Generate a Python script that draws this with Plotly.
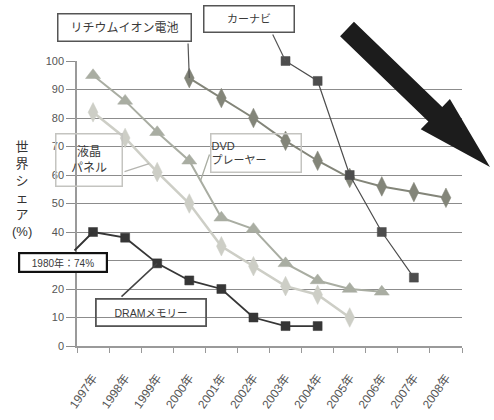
import plotly.graph_objects as go

# Categories (x axis)
years = ["1997年", "1998年", "1999年", "2000年", "2001年", "2002年",
         "2003年", "2004年", "2005年", "2006年", "2007年", "2008年"]

# World share (%) of Japanese makers by product
dram_x = years[0:8]
dram_share = [40, 38, 29, 23, 20, 10, 7, 7]

lcd_x = years[0:9]
lcd_share = [82, 73, 61, 50, 35, 28, 21, 18, 10]

dvd_x = years[0:10]
dvd_share = [95, 86, 75, 65, 45, 41, 29, 23, 20, 19]

liion_x = years[3:12]
liion_share = [94, 87, 80, 72, 65, 59, 56, 54, 52]

navi_x = years[6:11]
navi_share = [100, 93, 60, 40, 24]

y_ticks = [0, 10, 20, 30, 40, 50, 60, 70, 80, 90, 100]
# the "30" label sits under the 1980 note box
y_tick_text = ["0", "10", "20", "", "40", "50", "60", "70", "80", "90", "100"]

# Canvas and plot-area geometry (pixels)
W, H = 494, 420
ML, MR, MT, MB = 77, 32, 61, 74
PW, PH = W - ML - MR, H - MT - MB
FONT = "Liberation Sans, Noto Sans CJK JP, sans-serif"


def to_paper(px, py):
    return (px - ML) / PW, (H - MB - py) / PH


def data_to_px(i, v):
    return ML + (i + 0.5) * PW / len(years), H - MB - v * PH / 100.0


fig = go.Figure()

series = [
    (lcd_x, lcd_share, "#cdcec6", 2.5, "diamond-tall", 14, "液晶パネル"),
    (dvd_x, dvd_share, "#a9ada2", 2.0, "triangle-up", 13, "DVDプレーヤー"),
    (liion_x, liion_share, "#838579", 2.0, "diamond-tall", 14, "リチウムイオン電池"),
    (navi_x, navi_share, "#4d4d4d", 1.2, "square", 9, "カーナビ"),
    (dram_x, dram_share, "#363636", 1.8, "square", 9, "DRAMメモリー"),
]
for xs, ys, col, lw, sym, ms, name in series:
    fig.add_trace(go.Scatter(
        x=xs, y=ys, name=name, mode="lines+markers",
        line=dict(color=col, width=lw),
        marker=dict(symbol=sym, size=ms, color=col,
                    line=dict(color=col, width=0.5)),
        cliponaxis=False, showlegend=False,
    ))

annotations = []


def interp(xs, vals, pos):
    i0 = int(pos)
    f = pos - i0
    start = years.index(xs[0])
    a = vals[i0 - start]
    b = vals[min(i0 - start + 1, len(vals) - 1)]
    return a + f * (b - a)


# Connector lines from each label box to its series
connectors = [
    (3.0, interp(liion_x, liion_share, 3.0), (188, 42), "#555555", 1.2),
    (6.0, interp(navi_x, navi_share, 6.0), (272, 33), "#555555", 1.2),
    (1.75, interp(lcd_x, lcd_share, 1.75), (123, 172), "#b5b5b0", 1.3),
    (3.35, interp(dvd_x, dvd_share, 3.35), (210, 153), "#a9ada2", 1.3),
    (0.0, interp(dram_x, dram_share, 0.0), (73, 252), "#333333", 1.8),
    (2.0, interp(dram_x, dram_share, 2.0), (120, 298), "#444444", 1.5),
]
for xi, yv, (tx, ty), col, lw in connectors:
    hx, hy = data_to_px(xi, yv)
    annotations.append(dict(
        x=xi, y=yv, xref="x", yref="y", text="", showarrow=True,
        arrowhead=0, arrowwidth=lw, arrowcolor=col, standoff=0,
        ax=tx - hx, ay=ty - hy, axref="pixel", ayref="pixel",
    ))

# Label boxes: (text, left, top, right, bottom, border colour, border width, font size, align, fill)
boxes = [
    ("リチウムイオン電池", 57, 13, 192, 42, "#555555", 1.5, 12, "center", "rgba(0,0,0,0)"),
    ("カーナビ", 203, 5, 295, 33, "#555555", 1.5, 11, "center", "rgba(0,0,0,0)"),
    ("液晶<br>パネル", 55, 133, 123, 187, "#c4c4c0", 1.5, 12, "center", "rgba(0,0,0,0)"),
    ("DVD<br>プレーヤー", 210, 133, 302, 173, "#c4c4c0", 1.5, 11, "left", "rgba(0,0,0,0)"),
    ("1980年：74%", 18, 252, 108, 273, "#111111", 2.2, 10, "center", "white"),
    ("DRAMメモリー", 95, 298, 207, 327, "#555555", 1.8, 10.5, "center", "rgba(0,0,0,0)"),
]
for text, x0, y0, x1, y1, bc, bw, fs, al, fill in boxes:
    cx, cy = to_paper((x0 + x1) / 2, (y0 + y1) / 2)
    annotations.append(dict(
        x=cx, y=cy, xref="paper", yref="paper", xanchor="center", yanchor="middle",
        text=text, showarrow=False, align=al,
        width=x1 - x0 - 2 * bw, height=y1 - y0 - 2 * bw,
        bordercolor=bc, borderwidth=bw, borderpad=0,
        bgcolor=fill,
        font=dict(family=FONT, size=fs, color="#3a3a3a"),
    ))

# Vertical axis title
tx, ty = to_paper(22, 189)
annotations.append(dict(
    x=tx, y=ty, xref="paper", yref="paper", xanchor="center", yanchor="middle",
    text="世<br>界<br>シ<br>ェ<br>ア<br>(%)", showarrow=False,
    font=dict(family=FONT, size=13, color="#333333"),
))

# Large downward trend arrow (polygon in pixel space, converted to paper units)
tail, tip = (347.0, 29.0), (490.0, 167.0)
dx, dy = tip[0] - tail[0], tip[1] - tail[1]
ln = (dx * dx + dy * dy) ** 0.5
ux, uy = dx / ln, dy / ln
vx, vy = uy, -ux
shaft_w, head_w, head_len = 10.0, 21.0, 76.0
hb = (tip[0] - head_len * ux, tip[1] - head_len * uy)
poly = [
    (tail[0] + shaft_w * vx, tail[1] + shaft_w * vy),
    (hb[0] + shaft_w * vx, hb[1] + shaft_w * vy),
    (hb[0] + head_w * vx, hb[1] + head_w * vy),
    tip,
    (hb[0] - head_w * vx, hb[1] - head_w * vy),
    (hb[0] - shaft_w * vx, hb[1] - shaft_w * vy),
    (tail[0] - shaft_w * vx, tail[1] - shaft_w * vy),
]
pts = [to_paper(px, py) for px, py in poly]
path = "M " + " L ".join(f"{x:.4f},{y:.4f}" for x, y in pts) + " Z"

fig.update_layout(
    width=W, height=H,
    margin=dict(l=ML, r=MR, t=MT, b=MB, autoexpand=False),
    paper_bgcolor="white", plot_bgcolor="white",
    font=dict(family=FONT, color="#444444"),
    annotations=annotations,
    shapes=[dict(type="path", path=path, xref="paper", yref="paper",
                 fillcolor="#1c1c1c", line=dict(width=0), layer="above")],
)

fig.update_xaxes(
    type="category", categoryorder="array", categoryarray=years,
    range=[-0.5, len(years) - 0.5],
    tickson="boundaries", ticks="outside", ticklen=5, tickcolor="#999999",
    showline=True, linecolor="#9a9a9a", linewidth=2,
    showgrid=False, tickangle=-55, ticklabelstandoff=18,
    tickfont=dict(family=FONT, size=12, color="#555555"),
)
fig.update_yaxes(
    range=[0, 100], tickvals=y_ticks, ticktext=y_tick_text,
    ticks="outside", ticklen=9, tickcolor="#8c8c8c",
    showline=True, linecolor="#9a9a9a", linewidth=1.5,
    showgrid=True, gridcolor="#8c8c8c", gridwidth=1,
    zeroline=False,
    tickfont=dict(family=FONT, size=11, color="#555555"),
)

fig.write_html("out.html")
